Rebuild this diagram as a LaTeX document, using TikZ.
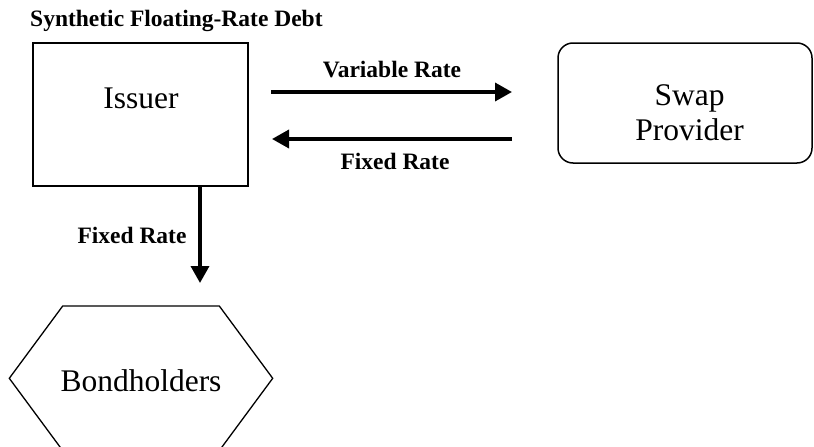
\documentclass[tikz,border=0pt]{standalone}
\usepackage{fontspec}
\setmainfont{Liberation Serif}
\usetikzlibrary{arrows.meta}

\tikzset{
  party/.style={draw, line width=1.5pt, inner sep=0pt},
  partyname/.style={font=\fontsize{31.5}{35}\selectfont, anchor=base, inner sep=0pt, align=center},
  ratelabel/.style={font=\fontsize{23.5}{28}\selectfont\bfseries, anchor=base, inner sep=0pt},
  flow/.style={line width=3.5pt, -{Triangle[length=17pt,width=18pt]}},
}

\begin{document}
\begin{tikzpicture}[x=1pt,y=-1pt]
\useasboundingbox (0,0) rectangle (814,447);
\clip (0,0) rectangle (814,447);

\node [ratelabel, anchor=base west] (title) at (30,27) {Synthetic Floating-Rate Debt};

% issuer and swap provider
\node [party, minimum width=215pt, minimum height=143pt] (issuer) at (140.5,114.5) {};
\node [partyname] (issuer-name) at (141,108.3) {Issuer};

\node [party, rounded corners=15pt, minimum width=254pt, minimum height=120pt] (swap) at (685,103) {};
% base of a two-line node is the last line
\node [partyname] (swap-name) at (689.5,140) {Swap\\Provider};

% bondholders, hexagon cut by the bottom edge
\node [partyname] (bond) at (141,391.7) {Bondholders};
\draw [line width=1.3pt] (62.7,306) -- (219.3,306) -- (272.7,378.3)
  -- (219.3,450.6) -- (62.7,450.6) -- (9.3,378.3) -- cycle;

% payment flows
\coordinate (var-from) at (271,92);
\coordinate (var-to) at (512,92);
\draw [flow] (var-from) -- (var-to);
\node [ratelabel] (var-label) at (392,77) {Variable Rate};

\coordinate (fix-from) at (512,139);
\coordinate (fix-to) at (272,139);
\draw [flow] (fix-from) -- (fix-to);
\node [ratelabel] (fix-label) at (395,169) {Fixed Rate};

\coordinate (pay-to) at (200,283);
\draw [flow] (issuer.south -| pay-to) -- (pay-to);
\node [ratelabel] (pay-label) at (132,243.3) {Fixed Rate};
\end{tikzpicture}
\end{document}
